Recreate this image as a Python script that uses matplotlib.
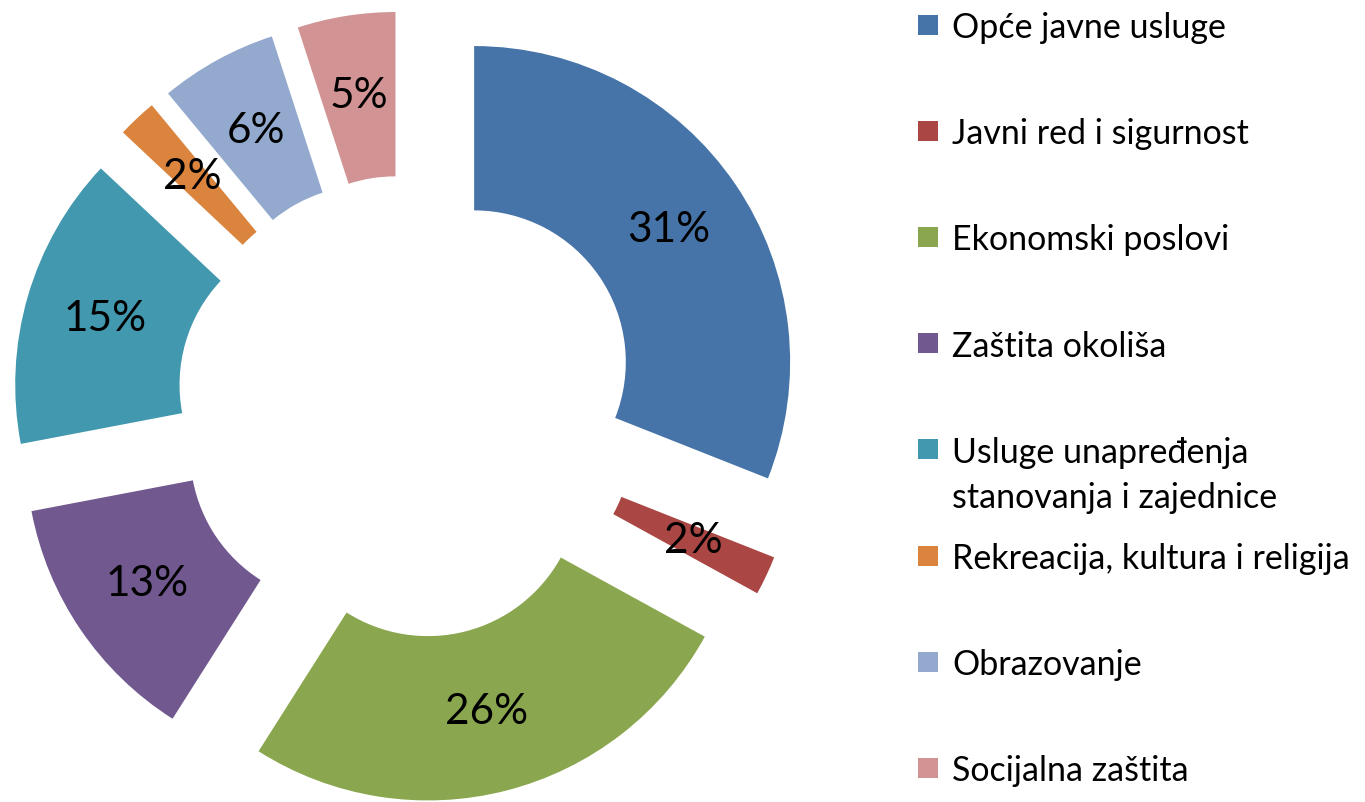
import matplotlib.pyplot as plt
from matplotlib.patches import Rectangle

plt.rcParams['font.family'] = ['Lato', 'DejaVu Sans']

# chart data
labels = ['Opće javne usluge', 'Javni red i sigurnost', 'Ekonomski poslovi',
          'Zaštita okoliša', 'Usluge unapređenja\nstanovanja i zajednice',
          'Rekreacija, kultura i religija', 'Obrazovanje', 'Socijalna zaštita']
shares = [31, 2, 26, 13, 15, 2, 6, 5]
colors = ['#4674A8', '#AA4644', '#8AA64E', '#71588F',
          '#4298AE', '#DA843E', '#94A9CE', '#D19393']

W, H = 1365, 802
cx, cy, R = 408, 395, 316   # donut centre (px from bottom-left) and radius

fig = plt.figure(figsize=(W / 100, H / 100), dpi=100)
ax = fig.add_axes([0, 0, 1, 1])

wedges, texts, autotexts = ax.pie(
    shares, colors=colors, startangle=90, counterclock=False,
    explode=[0.253] * len(shares), radius=1.0,
    autopct='%.0f%%', pctdistance=0.745,
    wedgeprops=dict(width=0.52, linewidth=0),
    textprops=dict(fontsize=30.5, color='black'))

ax.set_xlim(-cx / R, (W - cx) / R)
ax.set_ylim(-cy / R, (H - cy) / R)
ax.axis('off')

# legend drawn by hand, one row every ~106 px
for i, (lab, col) in enumerate(zip(labels, colors)):
    yc = 24.5 + 106.2 * i          # square centre, px from top
    fig.patches.append(Rectangle((918 / W, 1 - (yc + 10) / H), 20 / W, 20 / H,
                                 transform=fig.transFigure, facecolor=col,
                                 edgecolor='none'))
    for k, line in enumerate(lab.split('\n')):
        fig.text(952 / W, 1 - (yc + 13.5 + 45 * k) / H, line, fontsize=24.5,
                 va='baseline', ha='left')

fig.savefig('out.png', dpi=100)
